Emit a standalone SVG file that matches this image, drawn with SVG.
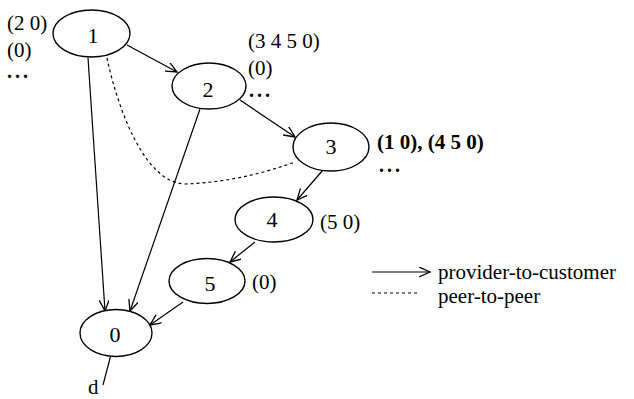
<svg xmlns="http://www.w3.org/2000/svg" width="634" height="399" viewBox="0 0 634 399">
<style>
  .node ellipse { fill: #fff; stroke: #000; stroke-width: 1.4; }
  text { font-family: "Liberation Serif", "Times New Roman", serif; font-size: 21px; fill: #000; }
  .lbl { text-anchor: middle; font-size: 22px; }
  .b { font-weight: bold; }
  .dots { letter-spacing: 3px; font-weight: bold; font-size: 20px; }
  .edge { fill: none; stroke: #000; stroke-width: 1.2; marker-end: url(#arr); }
  .peer { fill: none; stroke: #000; stroke-width: 1.2; stroke-dasharray: 3 3; }
  .plain { fill: none; stroke: #000; stroke-width: 1.2; }
</style>
<defs>
  <marker id="arr" markerUnits="userSpaceOnUse" markerWidth="14" markerHeight="12" refX="11" refY="5" orient="auto">
    <path d="M0,0 L11,5 L0,10" fill="none" stroke="#000" stroke-width="1.3"/>
  </marker>
</defs>
<rect width="634" height="399" fill="#fff"/>
<g id="connectors">
  <path class="edge" d="M127,45 L177,72"/>
  <path class="edge" d="M240,100 L295,137"/>
  <path class="edge" d="M323,170 L297,200"/>
  <path class="edge" d="M255,242 L230,262"/>
  <path class="edge" d="M183,302 L150,325"/>
  <path class="edge" d="M88,58 L105,311"/>
  <path class="edge" d="M200,109 L130,311"/>
  <path class="peer" d="M107,58 C118,110 145,183 185,184 Q240,182 295,162"/>
  <path class="plain" d="M113,347 L103,385"/>
</g>
<g id="node1" class="node">
  <ellipse cx="91.5" cy="33.5" rx="38.5" ry="23.5"/>
  <text class="lbl" x="93" y="43">1</text>
</g>
<g id="node2" class="node">
  <ellipse cx="209" cy="86" rx="37" ry="23"/>
  <text class="lbl" x="208" y="97">2</text>
</g>
<g id="node3" class="node">
  <ellipse cx="331" cy="147" rx="38" ry="24"/>
  <text class="lbl" x="331" y="154">3</text>
</g>
<g id="node4" class="node">
  <ellipse cx="274" cy="219.5" rx="39" ry="22.5"/>
  <text class="lbl" x="272" y="227">4</text>
</g>
<g id="node5" class="node">
  <ellipse cx="207" cy="281" rx="38" ry="22.5"/>
  <text class="lbl" x="210" y="291">5</text>
</g>
<g id="node0" class="node">
  <ellipse cx="116" cy="333" rx="36" ry="23.5"/>
  <text class="lbl" x="115" y="342">0</text>
</g>
<g id="annotations">
  <text x="7" y="30">(2 0)</text>
  <text x="7" y="57">(0)</text>
  <text class="dots" x="7" y="78">...</text>
  <text x="248" y="48">(3 4 5 0)</text>
  <text x="248" y="75">(0)</text>
  <text class="dots" x="249" y="97">...</text>
  <text class="b" x="377" y="149">(1 0), (4 5 0)</text>
  <text class="dots" x="379" y="172">...</text>
  <text x="320" y="229">(5 0)</text>
  <text x="252" y="289">(0)</text>
  <text x="88" y="394">d</text>
</g>
<g id="legend">
  <path class="edge" d="M372,272 L430,272"/>
  <text x="438" y="279">provider-to-customer</text>
  <path class="peer" d="M372,293 L418,293"/>
  <text x="438" y="303">peer-to-peer</text>
</g>
</svg>
